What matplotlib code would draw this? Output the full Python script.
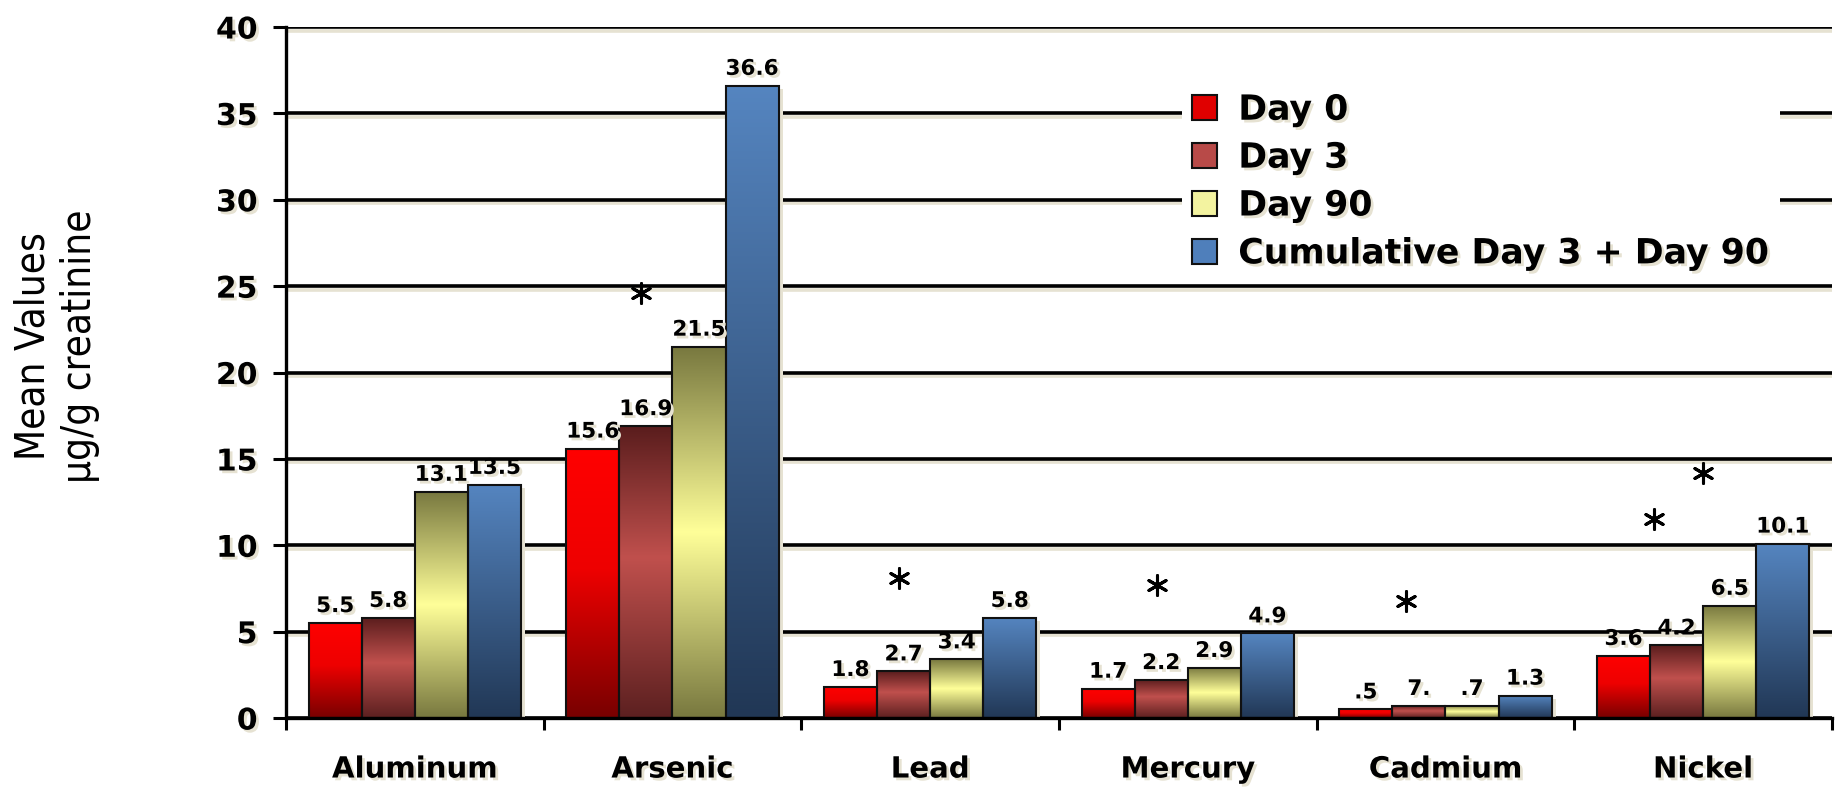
import numpy as np
import matplotlib
matplotlib.use("Agg")
import matplotlib.pyplot as plt
import matplotlib.patheffects as pe
from matplotlib.colors import LinearSegmentedColormap
from matplotlib.transforms import ScaledTranslation

# data
metals = ["Aluminum", "Arsenic", "Lead", "Mercury", "Cadmium", "Nickel"]
series = ["Day 0", "Day 3", "Day 90", "Cumulative Day 3 + Day 90"]
day0 = [5.5, 15.6, 1.8, 1.7, 0.5, 3.6]
day3 = [5.8, 16.9, 2.7, 2.2, 0.7, 4.2]
day90 = [13.1, 21.5, 3.4, 2.9, 0.7, 6.5]
cumulative = [13.5, 36.6, 5.8, 4.9, 1.3, 10.1]
day0_labels = ["5.5", "15.6", "1.8", "1.7", ".5", "3.6"]
day3_labels = ["5.8", "16.9", "2.7", "2.2", "7.", "4.2"]
day90_labels = ["13.1", "21.5", "3.4", "2.9", ".7", "6.5"]
cumulative_labels = ["13.5", "36.6", "5.8", "4.9", "1.3", "10.1"]

# significance stars: (metal index, bar slot, y value)
star_metal = [1, 2, 3, 4, 5, 5]
star_slot = [0.9, 0.92, 0.92, 0.75, 0.57, 1.5]
star_y = [24.6, 8.1, 7.7, 6.8, 11.5, 14.2]

values = [day0, day3, day90, cumulative]
labels = [day0_labels, day3_labels, day90_labels, cumulative_labels]

# vertical gradients, top -> bottom
grads = [
    [(0, "#ff0000"), (0.45, "#ee0000"), (1, "#780000")],
    [(0, "#5a1d1d"), (0.45, "#c0504d"), (1, "#5c2020")],
    [(0, "#78783f"), (0.5, "#ffff99"), (1, "#78783f")],
    [(0, "#5585c0"), (1, "#213755")],
]
legend_colors = ["#e00000", "#b84a48", "#f3f3a0", "#4f7fbb"]
shadow = "#e6e2d2"

fig = plt.figure(figsize=(18.41, 7.88), dpi=100)
ax = fig.add_axes([0.1553, 0.0888, 0.8398, 0.8769])

x = np.arange(len(metals))
w = 0.206
offsets = (np.arange(4) - 1.5) * w
shadow_tr = ax.transData + ScaledTranslation(4 / 100, -3 / 100, fig.dpi_scale_trans)

txt_shadow = [pe.withSimplePatchShadow(offset=(2, -2), shadow_rgbFace=shadow, alpha=1)]

for i in range(4):
    xs = x + offsets[i]
    # soft shadow behind bars
    sh = ax.bar(xs, values[i], w, color=shadow, edgecolor="none", zorder=1.5)
    for p in sh:
        p.set_transform(shadow_tr)
    bars = ax.bar(xs, values[i], w, facecolor="none", edgecolor="#111111",
                  linewidth=1.5, zorder=3, label=series[i])
    cmap = LinearSegmentedColormap.from_list("g%d" % i, grads[i])
    grad = np.linspace(0, 1, 256)[:, None]
    for b in bars:
        x0, h = b.get_x(), b.get_height()
        ax.imshow(grad, cmap=cmap, extent=[x0, x0 + w, 0, h], origin="upper",
                  aspect="auto", zorder=2, interpolation="bilinear")
    for b, lab in zip(bars, labels[i]):
        ax.annotate(lab, (b.get_x() + w / 2, b.get_height()), xytext=(0, 5),
                    textcoords="offset points", ha="center", va="bottom",
                    fontsize=15.5, fontweight="bold", zorder=5,
                    path_effects=txt_shadow)

# stars
sx = np.array(star_metal) + offsets[0] + np.array(star_slot) * w
ax.scatter(sx, star_y, marker=(6, 2, 0), s=200, color="black", linewidths=2.2, zorder=5)

ax.set_xlim(-0.5, 5.5)
ax.set_ylim(0, 40)
ax.set_yticks(np.arange(0, 41, 5))
ax.set_xticks(x)
ax.set_xticklabels(metals)
ax.set_xticks(np.arange(-0.5, 6, 1), minor=True)
ax.tick_params(axis="x", which="major", length=0, pad=27)
ax.tick_params(axis="x", which="minor", length=8.6, width=2.2, direction="out")
ax.tick_params(axis="y", length=9.5, width=2.2, direction="out", pad=11)
for lbl in ax.get_xticklabels():
    lbl.set_fontsize(21)
    lbl.set_fontweight("bold")
    lbl.set_path_effects(txt_shadow)
for lbl in ax.get_yticklabels():
    lbl.set_fontsize(21.5)
    lbl.set_fontweight("bold")
    lbl.set_path_effects(txt_shadow)

ax.set_axisbelow(True)
ax.grid(axis="y", color="black", linewidth=2.6)
for gl in ax.get_ygridlines():
    gl.set_path_effects([pe.SimpleLineShadow(offset=(2, -2.5), shadow_color=shadow, alpha=1),
                         pe.Normal()])

for s in ["top", "right"]:
    ax.spines[s].set_visible(False)
for s in ["left", "bottom"]:
    ax.spines[s].set_linewidth(2.4)
    ax.spines[s].set_zorder(4)

handles = [plt.Rectangle((0, 0), 1, 1, facecolor=c, edgecolor="#111111", linewidth=1.5)
           for c in legend_colors]
leg = ax.legend(handles, series, loc="upper left", bbox_to_anchor=(0.5796, 0.92),
                frameon=True, framealpha=1, edgecolor="none", facecolor="white",
                fancybox=False, borderpad=0.3, borderaxespad=0,
                handlelength=0.72, handleheight=0.72, handletextpad=0.6,
                labelspacing=0.4, prop={"size": 25, "weight": "bold"})
leg.set_zorder(6)
for t in leg.get_texts():
    t.set_path_effects(txt_shadow)

fig.text(57 / 1841, 1 - 346 / 788, "Mean Values\nμg/g creatinine", rotation=90,
         ha="center", va="center", fontsize=29, linespacing=1.2,
         family="DejaVu Sans", fontstretch="condensed")

fig.savefig("out.png", dpi=100)
